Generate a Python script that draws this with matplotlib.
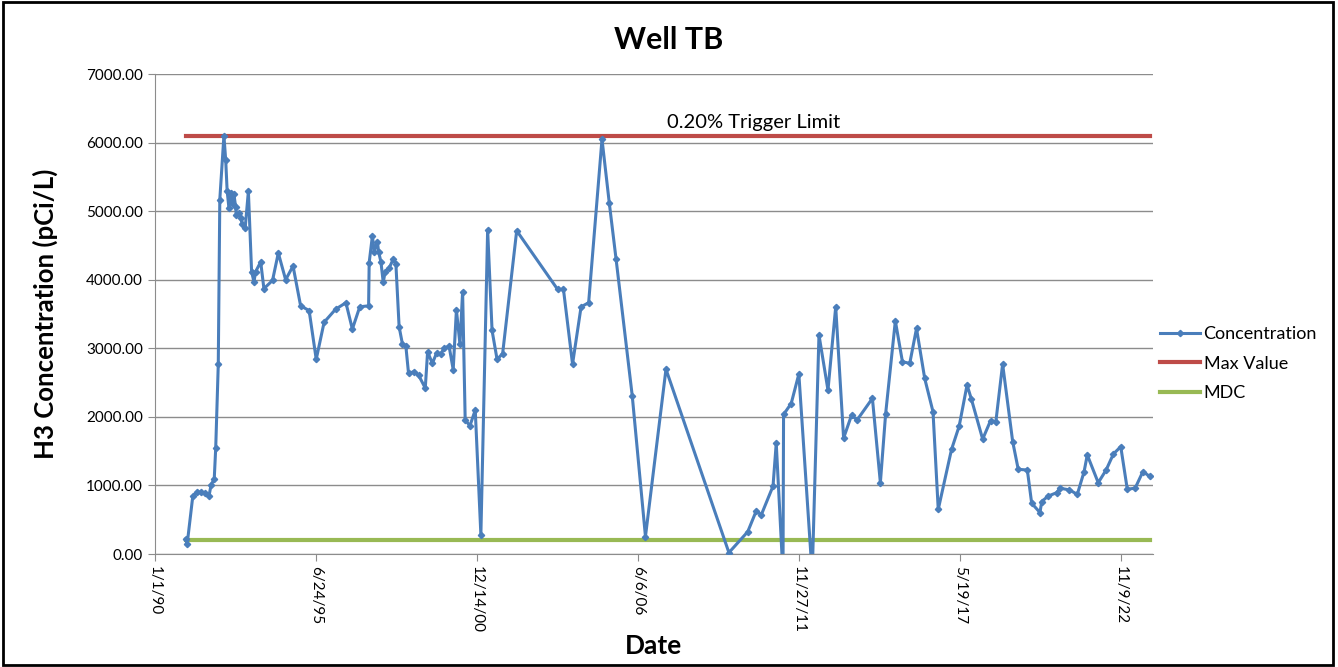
import matplotlib
matplotlib.use("Agg")
import matplotlib.pyplot as plt
import matplotlib.dates as mdates
from matplotlib.ticker import FixedLocator, FuncFormatter
import pandas as pd

# sample dates and H3 concentration (pCi/L)
sample_dates = [
    "1991-01-18", "1991-02-06", "1991-04-16", "1991-06-10", "1991-07-23", "1991-09-13",
    "1991-11-03", "1991-11-28", "1992-01-08", "1992-01-26", "1992-02-27", "1992-03-17",
    "1992-05-07", "1992-05-29", "1992-06-16", "1992-07-08", "1992-08-06", "1992-08-28",
    "1992-09-08", "1992-09-30", "1992-10-07", "1992-11-09", "1992-12-01", "1992-12-19",
    "1993-01-26", "1993-03-07", "1993-04-16", "1993-05-15", "1993-06-06", "1993-08-07",
    "1993-09-16", "1994-01-01", "1994-03-14", "1994-06-13", "1994-09-13", "1994-12-16",
    "1995-04-01", "1995-06-28", "1995-10-04", "1996-02-24", "1996-07-01", "1996-09-19",
    "1996-12-20", "1997-04-09", "1997-04-16", "1997-05-26", "1997-06-17", "1997-07-27",
    "1997-08-11", "1997-09-09", "1997-10-08", "1997-10-30", "1997-12-20", "1998-02-09",
    "1998-03-14", "1998-04-23", "1998-06-02", "1998-07-16", "1998-08-18", "1998-10-26",
    "1998-12-20", "1999-03-14", "1999-04-12", "1999-06-10", "1999-08-03", "1999-09-23",
    "1999-11-03", "2000-01-04", "2000-02-24", "2000-04-04", "2000-05-18", "2000-06-20",
    "2000-07-22", "2000-09-19", "2000-11-24", "2001-02-02", "2001-04-27", "2001-06-21",
    "2001-08-22", "2001-10-30", "2002-04-23", "2003-09-13", "2003-11-25", "2004-03-17",
    "2004-07-01", "2004-10-03", "2005-03-18", "2005-06-17", "2005-09-09", "2006-03-29",
    "2006-09-09", "2007-05-22", "2009-07-12", "2010-03-03", "2010-06-17", "2010-08-18",
    "2011-01-11", "2011-02-20", "2011-05-15", "2011-05-22", "2011-08-25", "2011-11-28",
    "2012-05-12", "2012-08-04", "2012-11-24", "2013-02-28", "2013-06-06", "2013-09-13",
    "2013-11-21", "2014-05-30", "2014-09-06", "2014-11-10", "2015-03-11", "2015-06-07",
    "2015-09-06", "2015-11-29", "2016-03-10", "2016-06-21", "2016-08-25", "2017-02-06",
    "2017-05-12", "2017-08-18", "2017-10-12", "2018-02-28", "2018-06-06", "2018-08-11",
    "2018-11-03", "2019-03-08", "2019-05-16", "2019-09-06", "2019-10-30", "2020-02-10",
    "2020-03-03", "2020-05-22", "2020-09-06", "2020-10-16", "2021-02-10", "2021-05-19",
    "2021-08-11", "2021-09-20", "2022-02-03", "2022-05-12", "2022-08-11", "2022-11-10",
    "2023-01-30", "2023-05-08", "2023-08-11", "2023-11-03",
]
concentration = [
    220, 150, 840, 900, 900, 895,
    840, 1000, 1100, 1540, 2770, 5170,
    6100, 5750, 5300, 5050, 5270, 5100,
    5250, 5060, 4940, 4970, 4900, 4820,
    4750, 5290, 4120, 3970, 4120, 4260,
    3870, 3990, 4390, 4000, 4200, 3620,
    3550, 2840, 3380, 3570, 3665, 3280,
    3605, 3620, 4250, 4640, 4410, 4555,
    4410, 4260, 3960, 4110, 4170, 4300,
    4230, 3315, 3070, 3030, 2635, 2660,
    2610, 2420, 2950, 2780, 2935, 2920,
    3000, 3030, 2690, 3560, 3060, 3825,
    1955, 1870, 2100, 280, 4725, 3260,
    2840, 2920, 4715, 3860, 3860, 2770,
    3605, 3665, 6050, 5115, 4300, 2305,
    255, 2695, 20, 325, 630, 570,
    990, 1615, -300, 2035, 2195, 2625,
    -300, 3195, 2390, 3605, 1690, 2025,
    1955, 2270, 1040, 2040, 3400, 2805,
    2780, 3290, 2560, 2075, 650, 1525,
    1865, 2465, 2255, 1675, 1945, 1930,
    2770, 1640, 1235, 1225, 740, 605,
    765, 845, 895, 960, 935, 870,
    1200, 1445, 1040, 1225, 1460, 1565,
    945, 960, 1200, 1135,
]
max_value = 6100
mdc_value = 200
tick_dates = ["1990-01-01", "1995-06-24", "2000-12-14", "2006-06-06",
              "2011-11-27", "2017-05-19", "2022-11-09"]
y_ticks = [0, 1000, 2000, 3000, 4000, 5000, 6000, 7000]

plt.rcParams["font.family"] = ["Lato", "DejaVu Sans"]

dates = pd.to_datetime(sample_dates)
blue = "#4A7EBB"
red = "#BE4B48"
green = "#98B954"

fig = plt.figure(figsize=(13.38, 6.67), dpi=100)
fig.patch.set_facecolor("white")
ax = fig.add_axes([0.1158, 0.1694, 0.7459, 0.7196])

ax.plot(dates, concentration, color=blue, lw=2.2, marker="D", ms=3.2,
        label="Concentration", zorder=4)
ax.plot([dates[0], dates[-1]], [max_value, max_value], color=red, lw=3,
        label="Max Value", zorder=3)
ax.plot([dates[0], dates[-1]], [mdc_value, mdc_value], color=green, lw=3,
        label="MDC", zorder=3)

ax.set_ylim(0, 7000)
ax.set_xlim(pd.Timestamp("1990-01-01"), pd.Timestamp("2023-12-15"))
ax.set_yticks(y_ticks)
ax.yaxis.set_major_formatter(FuncFormatter(lambda v, p: f"{v:.2f}"))

tick_pos = mdates.date2num(pd.to_datetime(tick_dates))
ax.xaxis.set_major_locator(FixedLocator(tick_pos))
ax.xaxis.set_major_formatter(FuncFormatter(
    lambda v, p: f"{mdates.num2date(v).month}/{mdates.num2date(v).day}/{mdates.num2date(v):%y}"))
plt.setp(ax.get_xticklabels(), rotation=-90, ha="center", va="top")

ax.grid(axis="y", color="#8C8C8C", lw=1)
ax.set_axisbelow(True)
for side in ["top", "right"]:
    ax.spines[side].set_visible(False)
for side in ["left", "bottom"]:
    ax.spines[side].set_color("#8C8C8C")
ax.tick_params(axis="both", colors="#8C8C8C", labelcolor="black", labelsize=11,
               length=5, direction="out")

fig.text(0.5, 0.94, "Well TB", fontsize=22, weight="bold", ha="center", va="center")
ax.set_ylabel("H3 Concentration (pCi/L)", fontsize=18.5, weight="bold", labelpad=20)
ax.set_xlabel("Date", fontsize=19, weight="bold", labelpad=1)

ax.text(0.60, 0.90, "0.20% Trigger Limit", transform=ax.transAxes,
        fontsize=14.5, ha="center", va="center")

fig.legend(loc="center left", bbox_to_anchor=(0.855, 0.455), frameon=False,
           fontsize=13, handlelength=2.2, handletextpad=0.2, labelspacing=0.75,
           numpoints=1)

border = plt.Rectangle((0.002, 0.003), 0.994, 0.994, transform=fig.transFigure,
                       fill=False, edgecolor="black", lw=2)
fig.add_artist(border)

fig.savefig("out.png", dpi=100)
